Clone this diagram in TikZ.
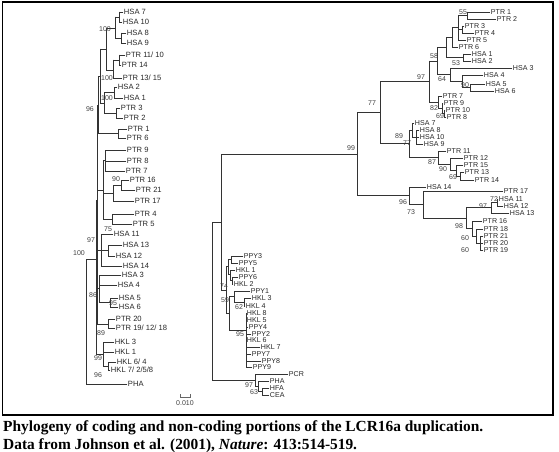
\documentclass[tikz,border=0pt]{standalone}
\usepackage{fontspec}
\setmainfont{Liberation Serif}
\newfontfamily\labfont{Liberation Sans}
\newcounter{tipc}
\tikzset{
 br/.style={draw=black!80, line width=0.7pt, line cap=rect},
 lab/.style={font=\labfont\fontsize{7.6}{8}\selectfont, text=black!85, inner sep=0.6pt, anchor=mid west},
 slab/.style={lab, font=\labfont\fontsize{7.1}{8}\selectfont},
 bsl/.style={font=\labfont\fontsize{7}{8}\selectfont, text=black!75, inner sep=0pt},
 captext/.style={font=\bfseries\fontsize{15.4}{17}\selectfont, anchor=base west, inner sep=0pt}
}
\newcommand{\Ttip}[4]{\stepcounter{tipc}\draw[br] (#1,#3) -- (#2,#3) node[lab] (tip\arabic{tipc}) {#4};}
\newcommand{\Stip}[4]{\stepcounter{tipc}\draw[br] (#1,#3) -- (#2,#3) node[slab] (tip\arabic{tipc}) {#4};}
\newcommand{\Tvl}[3]{\draw[br] (#1,#2) -- (#1,#3);}
\newcommand{\Thl}[3]{\draw[br] (#1,#3) -- (#2,#3);}
\newcommand{\Tbs}[3]{\stepcounter{tipc}\node[bsl] (bs\arabic{tipc}) at (#1,#2) {#3};}
\begin{document}
\begin{tikzpicture}[x=1pt,y=-1pt]
\useasboundingbox (0,0) rectangle (559,452);
\draw[line width=1.4pt] (2.5,2) rectangle (553,415);
% ================= LEFT TREE =================
\Tvl{86}{259}{384}
\Thl{86}{96}{259}
\Ttip{86}{127}{384}{PHA}
\Tvl{96}{200}{354}
\Thl{96}{97}{200}
% HKL
\Thl{96}{103}{354}
\Tvl{103}{342}{366}
\Ttip{103}{114}{342}{HKL 3}
\Ttip{103}{114}{352}{HKL 1}
\Thl{103}{108}{366}
\Tvl{108}{362}{370}
\Ttip{108}{116}{362}{HKL 6/ 4}
\Ttip{108}{110}{370}{HKL 7/ 2/5/8}
% N2 trunk
\Tvl{97}{105}{324}
\Thl{97}{108}{324}
\Tvl{108}{319}{328}
\Ttip{108}{115}{319}{PTR 20}
\Ttip{108}{115}{328}{PTR 19/ 12/ 18}
% HSA 3-6
\Thl{97}{99}{288}
\Tvl{99}{275}{302}
\Ttip{99}{121}{275}{HSA 3}
\Ttip{99}{117}{285}{HSA 4}
\Thl{99}{110}{302}
\Tvl{110}{298}{307}
\Ttip{110}{118}{298}{HSA 5}
\Ttip{110}{118}{307}{HSA 6}
% HSA 11-14
\Thl{97}{101}{250}
\Tvl{101}{234}{266}
\Ttip{101}{113}{234}{HSA 11}
\Thl{101}{108}{250}
\Tvl{108}{245}{256}
\Ttip{108}{122}{245}{HSA 13}
\Ttip{108}{115}{256}{HSA 12}
\Ttip{101}{122}{266}{HSA 14}
% PTR 9..5
\Thl{97}{103}{190}
\Tvl{103}{160}{219}
\Thl{103}{105}{160}
\Tvl{105}{150}{171}
\Ttip{105}{126}{150}{PTR 9}
\Ttip{105}{126}{161}{PTR 8}
\Ttip{105}{125}{171}{PTR 7}
\Thl{103}{113}{193}
\Tvl{113}{185}{201}
\Thl{113}{121}{185}
\Tvl{121}{180}{190}
\Ttip{121}{129}{180}{PTR 16}
\Ttip{121}{135}{190}{PTR 21}
\Ttip{113}{134}{201}{PTR 17}
\Thl{103}{112}{219}
\Tvl{112}{214}{224}
\Ttip{112}{134}{214}{PTR 4}
\Ttip{112}{132}{224}{PTR 5}
% upper
\Thl{97}{98}{105}
\Tvl{98}{76}{133}
\Thl{98}{100}{76}
\Tvl{100}{49}{103}
\Thl{100}{106}{49}
\Tvl{106}{28}{70}
\Thl{106}{115}{28}
\Tvl{115}{17}{38}
\Thl{115}{119}{17}
\Tvl{119}{12}{22}
\Ttip{119}{123}{12}{HSA 7}
\Ttip{119}{122}{22}{HSA 10}
\Thl{115}{121}{38}
\Tvl{121}{33}{43}
\Ttip{121}{126}{33}{HSA 8}
\Ttip{121}{126}{43}{HSA 9}
\Thl{106}{113}{70}
\Tvl{113}{60}{78}
\Thl{113}{119}{60}
\Tvl{119}{55}{65}
\Ttip{119}{125}{55}{PTR 11/ 10}
\Ttip{119}{121}{65}{PTR 14}
\Ttip{113}{122}{78}{PTR 13/ 15}
\Thl{100}{104}{103}
\Tvl{104}{92}{113}
\Thl{104}{114}{92}
\Tvl{114}{87}{98}
\Ttip{114}{117}{87}{HSA 2}
\Ttip{114}{123}{98}{HSA 1}
\Thl{104}{116}{113}
\Tvl{116}{108}{118}
\Ttip{116}{120}{108}{PTR 3}
\Ttip{116}{123}{118}{PTR 2}
\Thl{98}{118}{133}
\Tvl{118}{129}{138}
\Ttip{118}{127}{129}{PTR 1}
\Ttip{118}{126}{138}{PTR 6}
% left bootstraps
\Tbs{105}{29}{100}
\Tbs{107}{78}{100}
\Tbs{107}{98}{100}
\Tbs{90}{109}{96}
\Tbs{116}{179}{90}
\Tbs{108}{229}{75}
\Tbs{91}{240}{97}
\Tbs{79}{253}{100}
\Tbs{93}{295}{86}
\Tbs{113}{303}{95}
\Tbs{101}{333}{89}
\Tbs{98}{358}{99}
\Tbs{98}{375}{96}
% scale
\draw[br,draw=black!60] (180,394) -- (180,397) -- (190,397) -- (190,394);
\node[bsl] (scalelab) at (185,403) {0.010};
% ================= MIDDLE TREE =================
\Tvl{212}{222.3}{380.1}
\Thl{212}{221}{222.3}
\Tvl{221}{154.2}{290}
\Thl{221}{357}{154.2}
\Thl{221}{226}{290}
\Tvl{226}{266.75}{313}
% G1
\Thl{226}{228}{266.75}
\Tvl{228}{259.5}{274.5}
\Thl{228}{231}{259.5}
\Tvl{231}{256}{263}
\Stip{231}{243}{256}{PPY3}
\Stip{231}{238}{263}{PPY5}
\Thl{228}{230}{274.5}
\Tvl{230}{270}{280.5}
\Stip{230}{235}{270}{HKL 1}
\Thl{230}{232}{280.5}
\Tvl{232}{277}{284}
\Stip{232}{238}{277}{PPY6}
\Stip{232}{233}{284}{HKL 2}
% N59
\Thl{226}{229}{313}
\Tvl{229}{296.25}{330}
\Thl{229}{234}{296.25}
\Tvl{234}{291}{302}
\Stip{234}{250}{291}{PPY1}
\Thl{234}{244}{302}
\Tvl{244}{298}{306}
\Stip{244}{251}{298}{HKL 3}
\Stip{244}{245}{306}{HKL 4}
\Thl{229}{246}{330}
\Tvl{246}{313}{367}
\Stip{246}{246}{313}{HKL 8}
\Stip{246}{246}{320}{HKL 5}
\Stip{246}{248}{327}{PPY4}
\Stip{246}{251}{334}{PPY2}
\Stip{246}{246}{340}{HKL 6}
\Stip{246}{260}{347}{HKL 7}
\Stip{246}{251}{354}{PPY7}
\Stip{246}{261}{361}{PPY8}
\Stip{246}{252}{367}{PPY9}
% outgroup
\Thl{212}{255}{380.1}
\Tvl{255}{374}{386.25}
\Stip{255}{288}{374}{PCR}
\Thl{255}{258}{386.25}
\Tvl{258}{381}{391.5}
\Stip{258}{269}{381}{PHA}
\Thl{258}{262}{391.5}
\Tvl{262}{388}{395}
\Stip{262}{269}{388}{HFA}
\Stip{262}{269}{395}{CEA}
\Tbs{224}{286}{74}
\Tbs{225}{300}{59}
\Tbs{239}{307}{62}
\Tbs{240}{334}{95}
\Tbs{249}{385}{97}
\Tbs{254}{392}{63}
% ================= RIGHT TREE =================
\Tvl{467}{12}{19}
\Stip{467}{490}{12}{PTR 1}
\Stip{467}{496}{19}{PTR 2}
\Tvl{462}{26}{33}
\Stip{462}{464}{26}{PTR 3}
\Stip{462}{474}{33}{PTR 4}
\Tvl{458}{15.5}{40}
\Thl{458}{467}{15.5}
\Thl{458}{462}{29.5}
\Stip{458}{466}{40}{PTR 5}
\Tvl{452}{27.75}{47}
\Thl{452}{458}{27.75}
\Stip{452}{458}{47}{PTR 6}
\Tvl{463}{54}{61}
\Stip{463}{471}{54}{HSA 1}
\Stip{463}{471}{61}{HSA 2}
\Tvl{446}{37.4}{57.5}
\Thl{446}{452}{37.4}
\Thl{446}{463}{57.5}
\Tvl{470}{84}{91}
\Stip{470}{485}{84}{HSA 5}
\Stip{470}{494}{91}{HSA 6}
\Tvl{462}{75}{87.5}
\Stip{462}{483}{75}{HSA 4}
\Thl{462}{470}{87.5}
\Tvl{450}{68}{81.25}
\Stip{450}{512}{68}{HSA 3}
\Thl{450}{462}{81.25}
\Tvl{437}{47.5}{74.6}
\Thl{437}{446}{47.5}
\Thl{437}{450}{74.6}
\Tvl{444}{110}{117}
\Stip{444}{445}{110}{PTR 10}
\Stip{444}{446}{117}{PTR 8}
\Tvl{442}{103}{113.5}
\Stip{442}{443}{103}{PTR 9}
\Thl{442}{444}{113.5}
\Tvl{438}{96}{108.25}
\Stip{438}{442}{96}{PTR 7}
\Thl{438}{442}{108.25}
\Tvl{429}{61}{102}
\Thl{429}{437}{61}
\Thl{429}{438}{102}
\Tvl{416}{130}{144}
\Stip{416}{419}{130}{HSA 8}
\Stip{416}{419}{137}{HSA 10}
\Stip{416}{423}{144}{HSA 9}
\Tvl{412}{123}{137}
\Stip{412}{414}{123}{HSA 7}
\Thl{412}{416}{137}
\Tvl{460}{172}{180}
\Stip{460}{464}{172}{PTR 13}
\Stip{460}{474}{180}{PTR 14}
\Tvl{456}{165}{176}
\Stip{456}{463}{165}{PTR 15}
\Thl{456}{460}{176}
\Tvl{450}{158}{170.5}
\Stip{450}{463}{158}{PTR 12}
\Thl{450}{456}{170.5}
\Tvl{438}{151}{164.25}
\Stip{438}{446}{151}{PTR 11}
\Thl{438}{450}{164.25}
\Tvl{409}{130}{157.6}
\Thl{409}{412}{130}
\Thl{409}{438}{157.6}
\Tvl{380}{81.5}{143.8}
\Thl{380}{429}{81.5}
\Thl{380}{409}{143.8}
\Tvl{497}{199}{206}
\Stip{497}{498}{199}{HSA 11}
\Stip{497}{503}{206}{HSA 12}
\Tvl{491}{202.5}{213}
\Thl{491}{497}{202.5}
\Stip{491}{509}{213}{HSA 13}
\Tvl{480}{236}{250}
\Stip{480}{483}{236}{PTR 21}
\Stip{480}{483}{243}{PTR 20}
\Stip{480}{483}{250}{PTR 19}
\Tvl{476}{229}{243}
\Stip{476}{483}{229}{PTR 18}
\Thl{476}{480}{243}
\Tvl{472}{221}{236}
\Stip{472}{482}{221}{PTR 16}
\Thl{472}{476}{236}
\Tvl{466}{207.75}{228.5}
\Thl{466}{491}{207.75}
\Thl{466}{472}{228.5}
\Tvl{423}{191}{218}
\Stip{423}{503}{191}{PTR 17}
\Thl{423}{466}{218}
\Tvl{409}{187}{204.5}
\Stip{409}{426}{187}{HSA 14}
\Thl{409}{423}{204.5}
\Tvl{357}{112.65}{195.75}
\Thl{357}{380}{112.65}
\Thl{357}{409}{195.75}
\Tbs{463}{12}{55}
\Tbs{434}{56}{58}
\Tbs{456}{63}{53}
\Tbs{442}{79}{64}
\Tbs{421}{77}{97}
\Tbs{465}{85}{90}
\Tbs{372}{103}{77}
\Tbs{434}{108}{82}
\Tbs{440}{116}{69}
\Tbs{399}{136}{89}
\Tbs{407}{143}{77}
\Tbs{351}{148}{99}
\Tbs{432}{162}{87}
\Tbs{443}{169}{90}
\Tbs{453}{177}{69}
\Tbs{494}{199}{72}
\Tbs{403}{202}{96}
\Tbs{483}{206}{97}
\Tbs{411}{212}{73}
\Tbs{459}{226}{98}
\Tbs{465}{238}{60}
\Tbs{465}{250}{60}
% ================= CAPTION =================
\node[captext] (cap1) at (3,431.5) {Phylogeny of coding and non-coding portions of the LCR16a duplication.};
\node[captext] (cap2) at (3,449.5) {Data from Johnson et al. (2001), \textit{Nature}: 413:514-519.};
\end{tikzpicture}
\end{document}
